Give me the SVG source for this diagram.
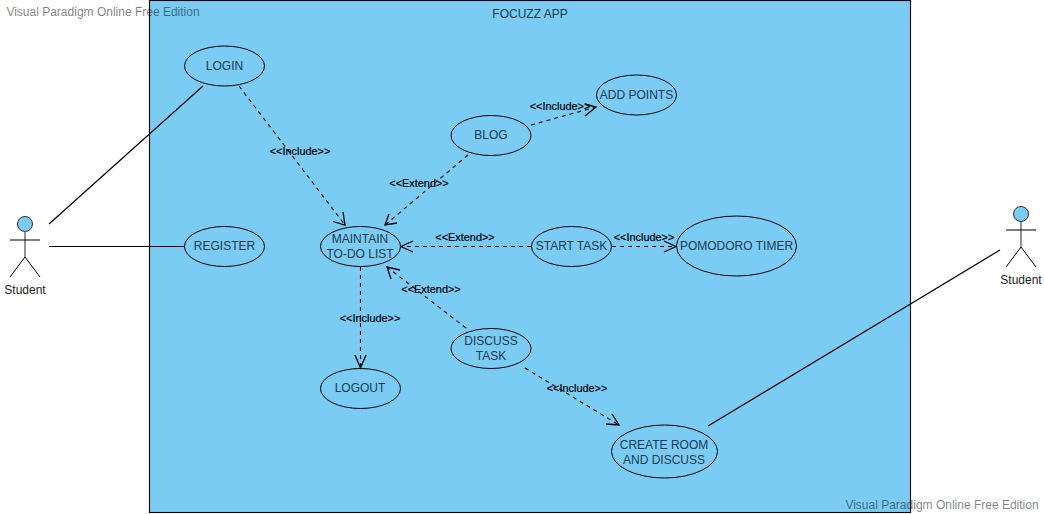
<svg xmlns="http://www.w3.org/2000/svg" width="1044" height="514" viewBox="0 0 1044 514">
<style>
text{font-family:"Liberation Sans",Arial,sans-serif;text-anchor:middle}
.uc{fill:none;stroke:#000;stroke-width:1}
.t{font-size:12px;fill:#1b3a4d}
.l{font-size:10.900px;fill:#000;stroke:#000;stroke-width:.2}
.a{fill:none;stroke:#000;stroke-width:1.200}
.s{fill:none;stroke:#000;stroke-width:1}
.d{fill:none;stroke:#000;stroke-width:1.100;stroke-dasharray:4 4}
.h{fill:none;stroke:#000;stroke-width:1.300}
.w{font-size:12px;fill:#000;fill-opacity:.5}
.act{fill:none;stroke:#000;stroke-width:1}
.body{stroke:#666;stroke-width:1.400;fill:none}
</style>
<rect width="1044" height="514" fill="#fff"/>
<g id="system"><rect x="149.500" y="0.500" width="761" height="512" fill="#7accf5" stroke="#000" stroke-width="1.100"/><text x="530" y="18" class="t">FOCUZZ APP</text></g>
<g id="connectors">
<path class="a" d="M49 224L203 86M708 426L1000 250"/><path class="s" d="M49 246.500H184"/>
<path class="d" d="M239 86L345 225"/><path class="h" d="M333 221.500L345 225L343 212"/>
<path class="d" d="M531 125L596 107"/><path class="h" d="M585 104L596 107L585 116"/>
<path class="d" d="M468 155L385 225"/><path class="h" d="M389 214L385 225L397 223"/>
<path class="d" d="M531 246.500H401"/><path class="h" d="M413 241L401 246.500L413 252"/>
<path class="d" d="M612 246.500H676"/><path class="h" d="M664 241L676 246.500L664 252"/>
<path class="d" d="M466 328L387 267"/><path class="h" d="M391 279L387 267L400 270"/>
<path class="d" d="M360.500 267V368"/><path class="h" d="M355 355L360.500 368L366 355"/>
<path class="d" d="M525 368L619 425"/><path class="h" d="M606 424L619 425L612 414"/>
</g>
<g id="login"><ellipse class="uc" cx="224.500" cy="66" rx="40" ry="20"/><text class="t" x="224.500" y="70">LOGIN</text></g>
<g id="register"><ellipse class="uc" cx="224.500" cy="246.500" rx="40" ry="20"/><text class="t" x="224.500" y="250">REGISTER</text></g>
<g id="maintain"><ellipse class="uc" cx="360.500" cy="246.500" rx="40" ry="20"/><text class="t" x="360" y="243">MAINTAIN</text><text class="t" x="360" y="258">TO-DO LIST</text></g>
<g id="logout"><ellipse class="uc" cx="360.500" cy="388.500" rx="40" ry="20"/><text class="t" x="360" y="392">LOGOUT</text></g>
<g id="blog"><ellipse class="uc" cx="491" cy="135.500" rx="40" ry="20"/><text class="t" x="491" y="139">BLOG</text></g>
<g id="addpoints"><ellipse class="uc" cx="636.500" cy="95" rx="40" ry="20"/><text class="t" x="636.500" y="99">ADD POINTS</text></g>
<g id="starttask"><ellipse class="uc" cx="571.500" cy="246.500" rx="40" ry="20"/><text class="t" x="571.500" y="250">START TASK</text></g>
<g id="pomodoro"><ellipse class="uc" cx="736.500" cy="246" rx="60" ry="30"/><text class="t" x="736.500" y="250">POMODORO TIMER</text></g>
<g id="discuss"><ellipse class="uc" cx="491" cy="348.500" rx="40" ry="20"/><text class="t" x="491" y="345">DISCUSS</text><text class="t" x="491" y="360">TASK</text></g>
<g id="createroom"><ellipse class="uc" cx="664.500" cy="451.500" rx="53" ry="26.500"/><text class="t" x="664" y="449">CREATE ROOM</text><text class="t" x="664" y="464">AND DISCUSS</text></g>
<g id="labels">
<text class="l" x="300" y="154.500">&lt;&lt;Include&gt;&gt;</text>
<text class="l" x="419" y="186.500">&lt;&lt;Extend&gt;&gt;</text>
<text class="l" x="560" y="109.500">&lt;&lt;Include&gt;&gt;</text>
<text class="l" x="465" y="240.500">&lt;&lt;Extend&gt;&gt;</text>
<text class="l" x="644" y="240.500">&lt;&lt;Include&gt;&gt;</text>
<text class="l" x="431" y="292.500">&lt;&lt;Extend&gt;&gt;</text>
<text class="l" x="370" y="321.500">&lt;&lt;Include&gt;&gt;</text>
<text class="l" x="577" y="391.500">&lt;&lt;Include&gt;&gt;</text>
</g>
<g id="actor1"><circle cx="25" cy="224" r="7.500" fill="#7accf5" stroke="#333" stroke-width="1"/><path class="body" d="M25 231.500V257"/><path class="act" d="M10 240H40M10 277L25 257L40 277"/><text x="25" y="294" font-size="12" fill="#222">Student</text></g>
<g id="actor2"><circle cx="1021" cy="214" r="7.500" fill="#7accf5" stroke="#333" stroke-width="1"/><path class="body" d="M1021 221.500V247"/><path class="act" d="M1006 230H1036M1006 267L1021 247L1036 267"/><text x="1021" y="284" font-size="12" fill="#222">Student</text></g>
<g id="watermarks"><text class="w" x="103" y="16">Visual Paradigm Online Free Edition</text><text class="w" x="942" y="509">Visual Paradigm Online Free Edition</text></g>
</svg>
